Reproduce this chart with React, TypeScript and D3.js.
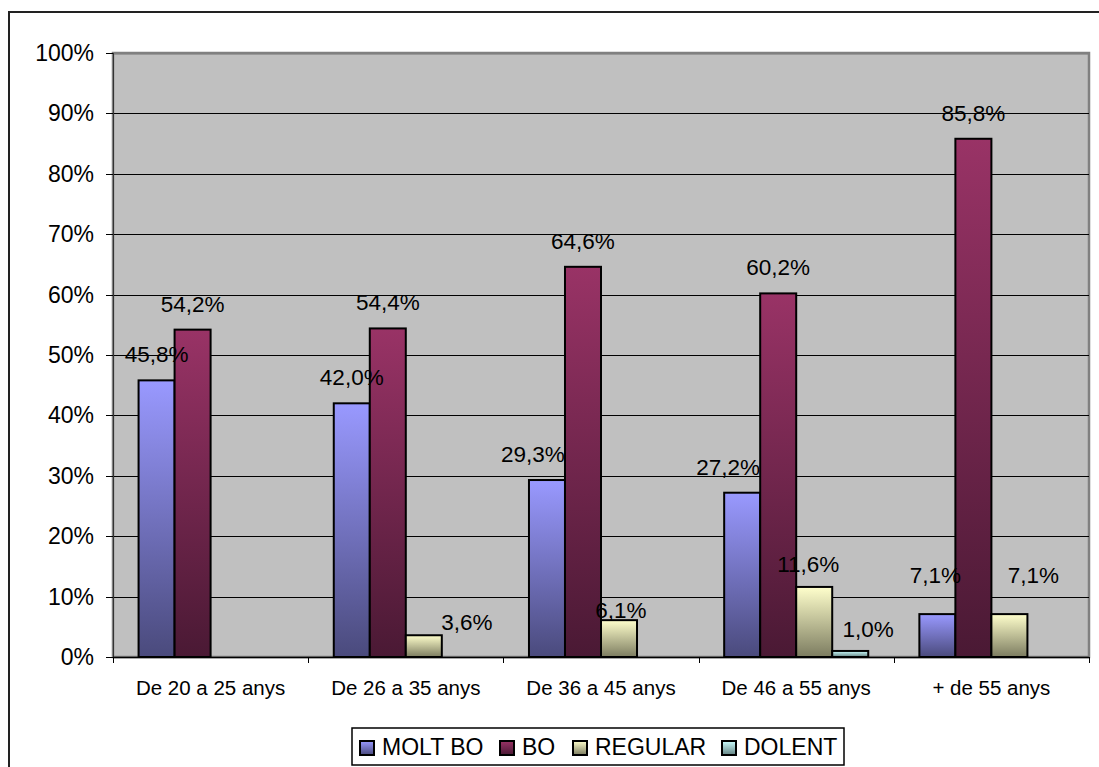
import React, { useEffect } from 'react';
import * as d3 from 'd3';

const categories = ['De 20 a 25 anys', 'De 26 a 35 anys', 'De 36 a 45 anys', 'De 46 a 55 anys', '+ de 55 anys'];
const seriesNames = ['MOLT BO', 'BO', 'REGULAR', 'DOLENT'];
const molt = [45.8, 42.0, 29.3, 27.2, 7.1];
const bo = [54.2, 54.4, 64.6, 60.2, 85.8];
const regular = [null, 3.6, 6.1, 11.6, 7.1];
const dolent = [null, null, null, 1.0, null];
const yTicks = [0, 10, 20, 30, 40, 50, 60, 70, 80, 90, 100];

const values: (number | null)[][] = [molt, bo, regular, dolent];
const topColors = ['#9999FF', '#993366', '#FFFFCC', '#CCFFFF'];
const bottomColors = ['#4A4A7C', '#4A1934', '#7C7C60', '#648282'];

// labels that were dragged by hand in the original ([dx, dy] in px, by series then category)
const labelNudge: Record<string, [number, number]> = {
  'MOLT BO|De 36 a 45 anys': [-14, 0],
  'MOLT BO|De 46 a 55 anys': [-14, 0],
  'MOLT BO|+ de 55 anys': [-2, -13],
  'REGULAR|De 26 a 35 anys': [43, 13],
  'REGULAR|De 36 a 45 anys': [2, 16],
  'REGULAR|De 46 a 55 anys': [-6, 3],
  'REGULAR|+ de 55 anys': [24, -13],
  'DOLENT|De 46 a 55 anys': [18, 4],
};

const W = 1099;
const H = 767;
const plot = { left: 113, top: 53, right: 1089, bottom: 657 };
const FONT = '"Liberation Sans", Arial, sans-serif';

const fmt = (v: number) => v.toFixed(1).replace('.', ',') + '%';

export default function App() {
  useEffect(() => {
    document.body.style.margin = '0';
  }, []);

  const x = d3.scaleBand<string>().domain(categories).range([plot.left, plot.right]).padding(0);
  const xs = d3.scaleBand<string>().domain(seriesNames).range([0, x.bandwidth()]).paddingInner(0).paddingOuter(0.71);
  const y = d3.scaleLinear().domain([0, 100]).range([plot.bottom, plot.top]);

  // flat list of bars, so labels can be drawn on top of every bar
  const bars = categories.flatMap((c, ci) =>
    seriesNames.map((s, si) => ({ c, s, si, v: values[si][ci] }))
  ).filter(d => d.v != null) as { c: string; s: string; si: number; v: number }[];

  // legend offsets (relative to first marker)
  const legendX = 360;
  const legendOffsets = [0, 140, 213, 362];

  return (
    <svg width={W} height={H} style={{ display: 'block', fontFamily: FONT }}>
      <defs>
        {seriesNames.map((s, i) => (
          <linearGradient key={s} id={`g${i}`} x1="0" y1="0" x2="0" y2="1">
            <stop offset="0%" stopColor={topColors[i]} />
            <stop offset="100%" stopColor={bottomColors[i]} />
          </linearGradient>
        ))}
      </defs>
      <rect x={0} y={0} width={W} height={H} fill="#fff" />
      <rect x={9} y={12} width={W} height={H} fill="none" stroke="#222" strokeWidth={2} />

      {/* plot area */}
      <rect x={plot.left} y={plot.top} width={plot.right - plot.left} height={plot.bottom - plot.top}
        fill="#C0C0C0" stroke="#808080" strokeWidth={2.5} />

      {/* gridlines */}
      {yTicks.slice(1).map(t => (
        <line key={t} x1={plot.left} x2={plot.right} y1={Math.round(y(t)) + 0.5} y2={Math.round(y(t)) + 0.5}
          stroke={t === 100 ? '#808080' : '#000'} strokeWidth={t === 100 ? 2 : 1} />
      ))}

      {/* y axis */}
      <line x1={plot.left + 0.5} x2={plot.left + 0.5} y1={plot.top} y2={plot.bottom} stroke="#333" strokeWidth={1} />
      {yTicks.map(t => (
        <g key={t}>
          <line x1={106} x2={plot.left} y1={Math.round(y(t)) + 0.5} y2={Math.round(y(t)) + 0.5} stroke="#000" />
          <text x={94} y={y(t) + 8} textAnchor="end" fontSize={23} fill="#000">{t}%</text>
        </g>
      ))}

      {/* bars */}
      {bars.map(d => (
        <rect key={d.c + d.s} x={x(d.c)! + xs(d.s)!} y={y(d.v)} width={xs.bandwidth()} height={y(0) - y(d.v)}
          fill={`url(#g${d.si})`} stroke="#000" strokeWidth={2} />
      ))}

      {/* x axis */}
      <line x1={plot.left} x2={plot.right} y1={plot.bottom + 0.5} y2={plot.bottom + 0.5} stroke="#000" strokeWidth={1.5} />
      {[...categories.map(c => x(c)!), plot.right].map((px, i) => (
        <line key={i} x1={Math.round(px) + 0.5} x2={Math.round(px) + 0.5} y1={plot.bottom} y2={plot.bottom + 6} stroke="#000" />
      ))}
      {categories.map(c => (
        <text key={c} x={x(c)! + x.bandwidth() / 2} y={695} textAnchor="middle" fontSize={20.5} fill="#000">{c}</text>
      ))}

      {/* data labels */}
      {bars.map(d => {
        const [dx, dy] = labelNudge[`${d.s}|${d.c}`] ?? [0, 0];
        return (
          <text key={'l' + d.c + d.s} x={x(d.c)! + xs(d.s)! + xs.bandwidth() / 2 + dx} y={y(d.v) - 18 + dy}
            textAnchor="middle" fontSize={22.5} fill="#000">
            {fmt(d.v)}
          </text>
        );
      })}

      {/* legend */}
      <rect x={352} y={728} width={492} height={37} fill="#fff" stroke="#000" strokeWidth={1.5} />
      {seriesNames.map((s, i) => (
        <g key={s} transform={`translate(${legendX + legendOffsets[i]},0)`}>
          <rect x={0} y={741} width={14} height={14} fill={`url(#g${i})`} stroke="#000" strokeWidth={2} />
          <text x={22} y={755} fontSize={23} fill="#000">{s}</text>
        </g>
      ))}
    </svg>
  );
}
